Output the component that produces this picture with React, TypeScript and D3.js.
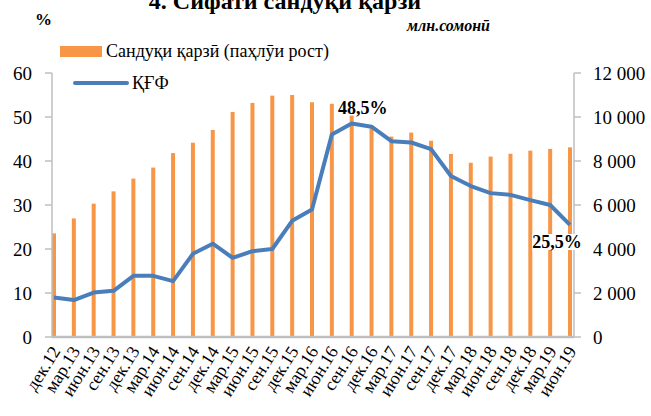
import React, { useEffect, useRef } from "react";
import * as d3 from "d3";

const settings = {
  width: 651,
  height: 416,
  margin: { top: 73, right: 77, bottom: 79, left: 52 },
};

const periods: string[] = [
  "дек.12", "мар.13", "июн.13", "сен.13", "дек.13", "мар.14", "июн.14",
  "сен.14", "дек.14", "мар.15", "июн.15", "сен.15", "дек.15", "мар.16",
  "июн.16", "сен.16", "дек.16", "мар.17", "июн.17", "сен.17", "дек.17",
  "мар.18", "июн.18", "сен.18", "дек.18", "мар.19", "июн.19",
];

// Сандуқи қарзӣ, млн. сомонӣ (right axis)
const portfolio: number[] = [
  4710, 5390, 6060, 6620, 7200, 7700, 8360, 8830, 9410, 10230, 10640, 10970,
  11000, 10670, 10600, 10450, 9490, 9110, 9290, 8920, 8320, 7920, 8200, 8330,
  8470, 8550, 8620,
];

// ҚҒФ, % (left axis)
const npl: number[] = [
  9.0, 8.4, 10.1, 10.5, 13.9, 13.9, 12.7, 18.9, 21.2, 18.0, 19.5, 20.0, 26.4,
  29.0, 46.0, 48.5, 47.8, 44.5, 44.2, 42.7, 36.6, 34.3, 32.7, 32.3, 31.1, 30.0,
  25.5,
];

const leftTicks: number[] = [0, 10, 20, 30, 40, 50, 60];
const rightTicks: number[] = [0, 2000, 4000, 6000, 8000, 10000, 12000];
const callouts: { index: number; text: string }[] = [
  { index: 15, text: "48,5%" },
  { index: 26, text: "25,5%" },
];

const FONT =
  "Liberation Serif, Times New Roman, Tinos, DejaVu Serif, Noto Serif, FreeSerif, serif";
const ORANGE = "#f79646";
const BLUE = "#4a7ebb";
const GREY = "#bfbfbf";

export default function App() {
  const svgRef = useRef<SVGSVGElement>(null);

  useEffect(() => {
    const svg = d3.select(svgRef.current);
    svg.selectAll("*").remove();
    const { width, height, margin } = settings;
    const x0 = margin.left;
    const x1 = width - margin.right;
    const yBottom = height - margin.bottom;

    const x = d3.scalePoint<string>().domain(periods).range([x0 + 2, x1 - 4]);
    const yL = d3.scaleLinear().domain([0, 60]).range([yBottom, margin.top]);
    const yR = d3.scaleLinear().domain([0, 12000]).range([yBottom, margin.top]);

    svg.style("font-family", FONT);

    // bars
    svg
      .append("g")
      .attr("fill", ORANGE)
      .selectAll("rect")
      .data(portfolio)
      .join("rect")
      .attr("x", (d, i) => (x(periods[i]) || 0) - 2)
      .attr("y", (d) => yR(d))
      .attr("width", 4)
      .attr("height", (d) => yR(0) - yR(d));

    // left axis
    const left = svg.append("g").attr("transform", `translate(${x0},0)`);
    left
      .append("line")
      .attr("y1", yL(60))
      .attr("y2", yL(0))
      .attr("stroke", GREY)
      .attr("stroke-width", 1.5);
    left
      .selectAll("line.t")
      .data(leftTicks)
      .join("line")
      .attr("class", "t")
      .attr("x1", -7)
      .attr("x2", 0)
      .attr("y1", (d) => yL(d))
      .attr("y2", (d) => yL(d))
      .attr("stroke", GREY)
      .attr("stroke-width", 1.5);
    left
      .selectAll("text")
      .data(leftTicks)
      .join("text")
      .attr("x", -20)
      .attr("y", (d) => yL(d))
      .attr("dy", "0.35em")
      .attr("text-anchor", "end")
      .style("font-size", "19px")
      .text((d) => d);

    // right axis
    const fmt = (v: number) => d3.format(",")(v).replace(/,/g, " ");
    const right = svg.append("g").attr("transform", `translate(${x1},0)`);
    right
      .append("line")
      .attr("y1", yR(12000))
      .attr("y2", yR(0))
      .attr("stroke", GREY)
      .attr("stroke-width", 1.5);
    right
      .selectAll("line.t")
      .data(rightTicks)
      .join("line")
      .attr("class", "t")
      .attr("x1", 0)
      .attr("x2", 7)
      .attr("y1", (d) => yR(d))
      .attr("y2", (d) => yR(d))
      .attr("stroke", GREY)
      .attr("stroke-width", 1.5);
    right
      .selectAll("text")
      .data(rightTicks)
      .join("text")
      .attr("x", 19)
      .attr("y", (d) => yR(d))
      .attr("dy", "0.35em")
      .style("font-size", "19px")
      .text((d) => fmt(d));

    // bottom axis
    svg
      .append("line")
      .attr("x1", x0)
      .attr("x2", x1)
      .attr("y1", yBottom)
      .attr("y2", yBottom)
      .attr("stroke", GREY)
      .attr("stroke-width", 2.5);
    svg
      .append("g")
      .selectAll("text")
      .data(periods)
      .join("text")
      .attr(
        "transform",
        (d) => `translate(${(x(d) || 0) + 7},${yBottom + 14}) rotate(-58)`
      )
      .attr("text-anchor", "end")
      .style("font-size", "18px")
      .text((d) => d);

    // line
    const line = d3
      .line<number>()
      .x((d, i) => x(periods[i]) || 0)
      .y((d) => yL(d));
    svg
      .append("path")
      .datum(npl)
      .attr("d", line)
      .attr("fill", "none")
      .attr("stroke", BLUE)
      .attr("stroke-width", 4)
      .attr("stroke-linejoin", "round");

    // callouts
    callouts.forEach((c) => {
      const cx = (x(periods[c.index]) || 0) + (c.index === 26 ? -13 : 11);
      const cy = c.index === 26 ? 248 : yL(npl[c.index]) - 10;
      const g = svg.append("g");
      const t = g
        .append("text")
        .attr("x", cx)
        .attr("y", cy)
        .attr("text-anchor", "middle")
        .style("font-size", "18px")
        .style("font-weight", "bold")
        .text(c.text);
      const bb = (t.node() as SVGTextElement).getBBox();
      g.insert("rect", "text")
        .attr("x", bb.x)
        .attr("y", bb.y + 2)
        .attr("width", bb.width)
        .attr("height", bb.height - 4)
        .attr("fill", "white");
    });

    // legend
    const lg = svg.append("g").style("font-size", "18px");
    lg.append("rect")
      .attr("x", 60)
      .attr("y", 46)
      .attr("width", 42)
      .attr("height", 11)
      .attr("fill", ORANGE);
    lg.append("text").attr("x", 106).attr("y", 57).text("Сандуқи қарзӣ (паҳлӯи рост)");
    lg.append("line")
      .attr("x1", 75)
      .attr("x2", 127)
      .attr("y1", 83)
      .attr("y2", 83)
      .attr("stroke", BLUE)
      .attr("stroke-width", 4)
      .attr("stroke-linecap", "round");
    lg.append("text").attr("x", 132).attr("y", 89).text("ҚҒФ");

    // titles
    svg
      .append("text")
      .attr("x", 285)
      .attr("y", 9)
      .attr("text-anchor", "middle")
      .style("font-size", "24px")
      .style("font-weight", "bold")
      .text("4. Сифати сандуқи қарзӣ");
    svg
      .append("text")
      .attr("x", 35)
      .attr("y", 25)
      .style("font-size", "17px")
      .style("font-weight", "bold")
      .text("%");
    svg
      .append("text")
      .attr("x", 490)
      .attr("y", 31)
      .attr("text-anchor", "end")
      .style("font-size", "16px")
      .style("font-weight", "bold")
      .style("font-style", "italic")
      .text("млн.сомонӣ");
  }, []);

  return (
    <svg
      ref={svgRef}
      width={settings.width}
      height={settings.height}
      style={{ position: "absolute", left: 0, top: 0, display: "block" }}
    ></svg>
  );
}
